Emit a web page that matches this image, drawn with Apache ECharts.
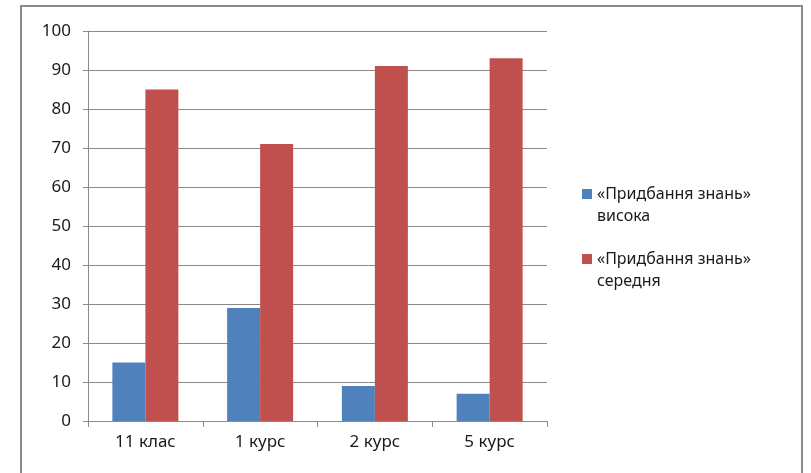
<!DOCTYPE html>
<html>
<head>
<meta charset="utf-8">
<script src="https://cdn.jsdelivr.net/npm/echarts@6/dist/echarts.min.js"></script>
<style>
html, body { margin: 0; padding: 0; background: #fff; }
#main { width: 811px; height: 473px; }
</style>
</head>
<body>
<div id="main"></div>
<script>
// дані діаграми
var categories = ['11 клас', '1 курс', '2 курс', '5 курс'];
var seriesNames = ['«Придбання знань»\nвисока', '«Придбання знань»\nсередня'];
var highValues = [15, 29, 9, 7];
var midValues = [85, 71, 91, 93];

var myChart = echarts.init(document.getElementById('main'));

var font = '"Noto Sans", "Open Sans", sans-serif';

var option = {
    backgroundColor: '#fff',
    animation: false,
    textStyle: { fontFamily: font },
    graphic: [{
        type: 'rect',
        shape: { x: 21, y: 6, width: 781, height: 480 },
        style: { fill: 'none', stroke: '#8c8c8c', lineWidth: 2 }
    }],
    legend: {
        orient: 'vertical',
        left: 577,
        top: 178,
        itemWidth: 10,
        itemHeight: 32,
        itemGap: 21,
        // квадратик біля першого рядка підпису
        icon: 'path://M0,0h10v10h-10zM0,32',
        data: seriesNames,
        textStyle: { fontSize: 16, color: '#1a1a1a', lineHeight: 22, fontFamily: font }
    },
    grid: {
        left: 88,
        top: 31,
        width: 459,
        height: 390
    },
    xAxis: {
        type: 'category',
        data: categories,
        axisLine: { lineStyle: { color: '#8a8a8a' } },
        axisTick: { show: true, length: 6, lineStyle: { color: '#8a8a8a' } },
        axisLabel: { fontSize: 17, color: '#1a1a1a', margin: 13 }
    },
    yAxis: {
        type: 'value',
        min: 0,
        max: 100,
        interval: 10,
        axisLine: { show: true, lineStyle: { color: '#8a8a8a' } },
        axisTick: { show: true, length: 5, lineStyle: { color: '#8a8a8a' } },
        axisLabel: { fontSize: 17, color: '#1a1a1a', margin: 17 },
        splitLine: { lineStyle: { color: '#8a8a8a' } }
    },
    series: [{
        name: seriesNames[0],
        type: 'bar',
        data: highValues,
        barWidth: 33,
        barGap: '0%',
        itemStyle: { color: '#4f81bd' }
    }, {
        name: seriesNames[1],
        type: 'bar',
        data: midValues,
        barWidth: 33,
        itemStyle: { color: '#c0504d' }
    }]
};

myChart.setOption(option);
</script>
</body>
</html>
